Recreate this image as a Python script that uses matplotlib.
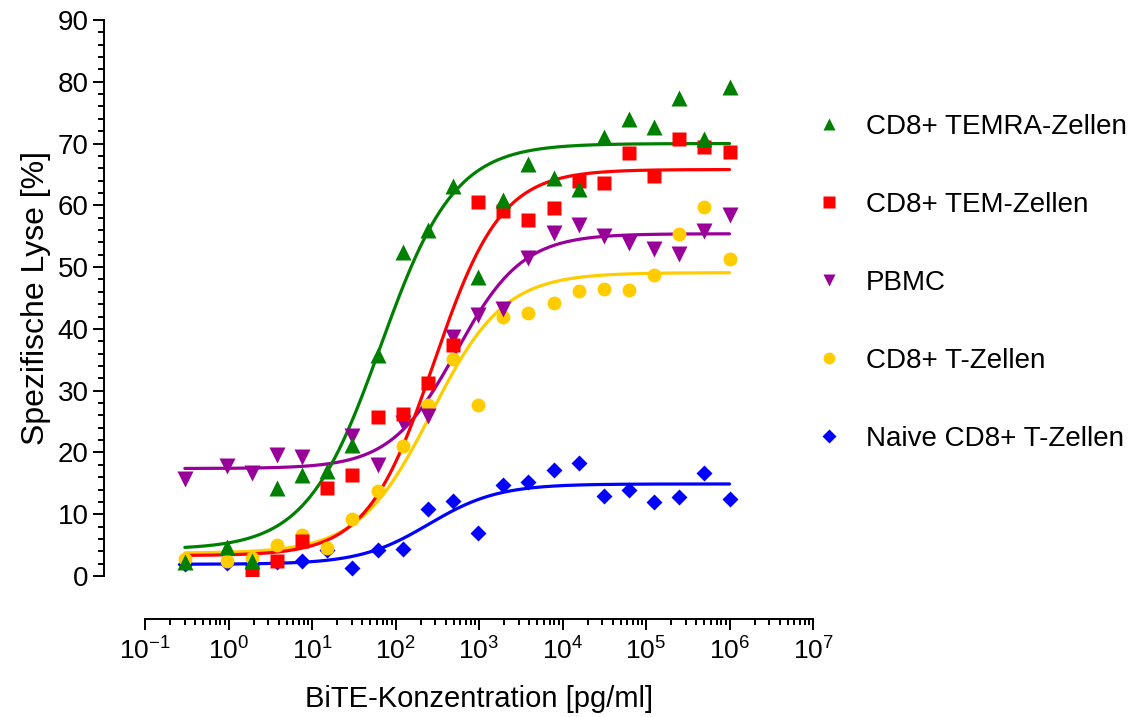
import numpy as np
import matplotlib
matplotlib.use("Agg")
import matplotlib.pyplot as plt
from matplotlib.lines import Line2D
from matplotlib.ticker import FixedLocator, FixedFormatter, LogLocator, NullFormatter, MultipleLocator

plt.rcParams['font.family'] = ['Liberation Sans', 'DejaVu Sans']
plt.rcParams['mathtext.fontset'] = 'custom'
plt.rcParams['mathtext.rm'] = 'Liberation Sans'
plt.rcParams['mathtext.default'] = 'regular'

# BiTE concentrations (pg/ml)
conc = [0.3, 0.95, 1.9, 3.8, 7.6, 15.3, 30.5, 61, 122, 244, 488, 977,
        1953, 3906, 7813, 15625, 31250, 62500, 125000, 250000, 500000, 1000000]

# specific lysis (%) per cell population
temra = [2.2, 4.7, 2.4, 14.3, 16.3, 17.0, 21.2, 35.7, 52.5, 56.0, 63.2, 48.4,
         60.8, 66.7, 64.4, 62.6, 71.1, 74.0, 72.6, 77.3, 70.7, 79.2]
tem = [np.nan, np.nan, 0.7, 2.4, 5.6, 14.2, 16.3, 25.8, 26.2, 31.3, 37.4, 60.5,
       59.1, 57.6, 59.5, 63.9, 63.6, 68.4, 64.8, 70.8, 69.4, 68.7]
pbmc = [15.7, 17.8, 16.6, 19.6, 19.3, np.nan, 22.6, 17.9, 24.7, 25.9, 38.7, 42.3,
        43.2, 51.5, 55.5, 56.8, 55.1, 53.9, 53.0, 52.2, 55.8, 58.5]
cd8 = [2.7, 2.4, 2.9, 5.0, 6.6, 4.6, 9.2, 13.7, 21.0, 27.6, 35.2, 27.6,
       42.0, 42.5, 44.2, 46.1, 46.4, 46.3, 48.8, 55.4, 59.8, 51.3]
naive = [1.9, 2.1, 2.0, 2.2, 2.5, 4.2, 1.3, 4.2, 4.3, 10.9, 12.1, 6.9,
         14.8, 15.2, 17.1, 18.3, 13.0, 14.0, 11.9, 12.8, 16.7, 12.5]

# four-parameter logistic fit parameters: bottom, top, logEC50, hill slope
fit_temra = (4.3, 70.0, 1.82, 0.98)
fit_tem = (3.3, 65.8, 2.46, 1.08)
fit_pbmc = (17.4, 55.4, 2.73, 1.10)
fit_cd8 = (3.7, 49.1, 2.43, 1.00)
fit_naive = (1.9, 14.9, 2.40, 1.05)

labels = ['CD8+ TEMRA-Zellen', 'CD8+ TEM-Zellen', 'PBMC', 'CD8+ T-Zellen',
          'Naive CD8+ T-Zellen']
colors = ['#008000', '#FF0000', '#990099', '#FFCC00', '#0000FF']
markers = ['^', 's', 'v', 'o', 'D']
msizes = [11, 9.5, 11, 10, 8.5]
series = [temra, tem, pbmc, cd8, naive]
fits = [fit_temra, fit_tem, fit_pbmc, fit_cd8, fit_naive]


def logistic(x, bottom, top, logec, hill):
    return bottom + (top - bottom) / (1 + 10 ** ((logec - np.log10(x)) * hill))


fig = plt.figure(figsize=(11.38, 7.17), dpi=100)
ax = fig.add_axes([145 / 1138, 1 - 576 / 717, (813 - 145) / 1138, (576 - 20) / 717])

xs = np.logspace(np.log10(conc[0]), np.log10(conc[-1]), 400)
# draw in reverse so TEMRA sits on top
for vals, fit, c, m, ms in reversed(list(zip(series, fits, colors, markers, msizes))):
    ax.plot(xs, logistic(xs, *fit), color=c, lw=2.3, zorder=2, solid_capstyle='round')
    ax.plot(conc, vals, linestyle='none', marker=m, color=c, ms=ms, mec='none', zorder=3)

ax.set_xscale('log')
ax.set_xlim(0.1, 1e7)
ax.set_ylim(0, 90)

for s in ['top', 'right']:
    ax.spines[s].set_visible(False)
ax.spines['left'].set_position(('outward', 29.5))
ax.spines['bottom'].set_position(('outward', 31))
ax.spines['left'].set_bounds(0, 90)
ax.spines['bottom'].set_bounds(0.1, 1e7)
for s in ['left', 'bottom']:
    ax.spines[s].set_linewidth(1.4)

ax.yaxis.set_major_locator(MultipleLocator(10))
ax.yaxis.set_minor_locator(MultipleLocator(2))
decades = list(range(-1, 8))
ax.xaxis.set_major_locator(FixedLocator([10.0 ** d for d in decades]))
ax.xaxis.set_major_formatter(FixedFormatter(['$10^{%d}$' % d for d in decades]))
ax.xaxis.set_minor_locator(LogLocator(base=10, subs=np.arange(2, 10), numticks=30))
ax.xaxis.set_minor_formatter(NullFormatter())

ax.tick_params(axis='both', which='major', direction='out', length=8, width=1.4,
               color='black')
ax.tick_params(axis='both', which='minor', direction='out', length=4.5, width=1.4)
ax.tick_params(axis='x', which='major', pad=5, labelsize=19)
ax.tick_params(axis='y', which='major', pad=3, labelsize=20)

ax.set_xlabel('BiTE-Konzentration [pg/ml]', fontsize=21, labelpad=15)
ax.set_ylabel('Spezifische Lyse [%]', fontsize=23, labelpad=5)

handles = [Line2D([], [], linestyle='none', marker=m, color=c, mec='none',
                  ms=ms * 0.85) for m, c, ms in zip(markers, colors, msizes)]
fig.legend(handles, labels, loc='upper left', bbox_to_anchor=(812 / 1138, 1 - 114 / 717),
           frameon=False, fontsize=20, handlelength=1.2, handletextpad=0.75,
           labelspacing=1.87, borderpad=0, borderaxespad=0)

fig.savefig('out.png', dpi=100)
